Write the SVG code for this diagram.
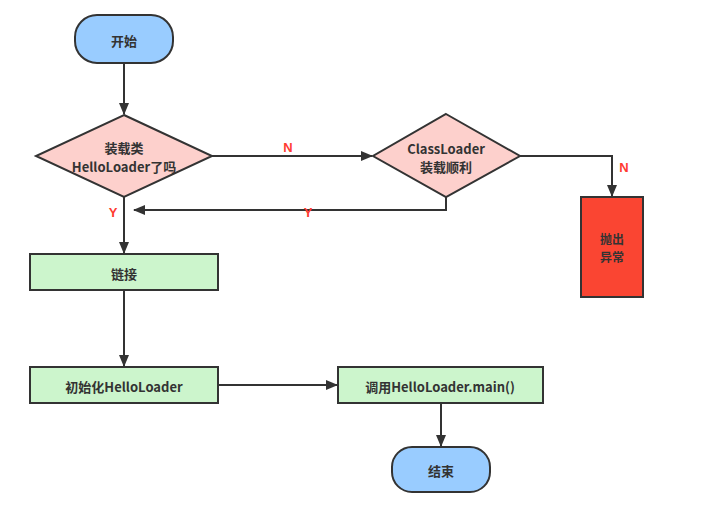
<svg xmlns="http://www.w3.org/2000/svg" width="724" height="520" viewBox="0 0 724 520">
<style>
text{font-family:"Noto Sans CJK SC","Liberation Sans",sans-serif;font-size:13px;font-weight:bold;fill:#333;text-anchor:middle;dominant-baseline:central}
.sm{font-size:12px}
.lbl{fill:#ff3b30;font-family:"Liberation Sans",sans-serif;font-size:13px}
.node{stroke:#333;stroke-width:2}
.term{fill:#99ccff}
.dec{fill:#fdd0cc}
.proc{fill:#ccf5cc}
.err{fill:#fa4532}
.edge{fill:none;stroke:#333;stroke-width:2}
</style>
<defs>
<marker id="arr" viewBox="0 0 12 10" refX="11" refY="5" markerWidth="12" markerHeight="10" markerUnits="userSpaceOnUse" orient="auto">
<path d="M0,0 L12,5 L0,10 z" fill="#333"/>
</marker>
</defs>
<rect width="724" height="520" fill="#fff"/>
<g id="connectors">
<path class="edge" d="M124,63 V114" marker-end="url(#arr)"/>
<path class="edge" d="M212,156 H372" marker-end="url(#arr)"/>
<path class="edge" d="M520,156 H612 V196" marker-end="url(#arr)"/>
<path class="edge" d="M446,197 V210 H134" marker-end="url(#arr)"/>
<path class="edge" d="M124,197 V253" marker-end="url(#arr)"/>
<path class="edge" d="M124,290 V366" marker-end="url(#arr)"/>
<path class="edge" d="M218,385 H337" marker-end="url(#arr)"/>
<path class="edge" d="M441,403 V446" marker-end="url(#arr)"/>
<text class="lbl" x="288" y="147">N</text>
<text class="lbl" x="624" y="167">N</text>
<text class="lbl" x="113" y="212">Y</text>
<text class="lbl" x="308" y="212">Y</text>
</g>
<g id="start">
<rect class="node term" x="75" y="15" width="98" height="48" rx="22"/>
<text x="124" y="40">开始</text>
</g>
<g id="d1">
<polygon class="node dec" points="124,115 212,156 124,197 36,156"/>
<text x="124" y="147">装载类</text>
<text x="124" y="166">HelloLoader了吗</text>
</g>
<g id="d2">
<polygon class="node dec" points="446,114 520,156 446,197 373,156"/>
<text x="446" y="148">ClassLoader</text>
<text x="446" y="166">装载顺利</text>
</g>
<g id="throw">
<rect class="node err" x="581" y="197" width="62" height="100"/>
<text class="sm" x="612" y="238">抛出</text>
<text class="sm" x="612" y="256">异常</text>
</g>
<g id="link">
<rect class="node proc" x="30" y="254" width="188" height="36"/>
<text x="124" y="273">链接</text>
</g>
<g id="init">
<rect class="node proc" x="30" y="367" width="188" height="36"/>
<text x="124" y="386">初始化HelloLoader</text>
</g>
<g id="call">
<rect class="node proc" x="338" y="367" width="205" height="36"/>
<text x="440" y="386">调用HelloLoader.main()</text>
</g>
<g id="end">
<rect class="node term" x="392" y="447" width="98" height="45" rx="20"/>
<text x="441" y="470">结束</text>
</g>
</svg>
